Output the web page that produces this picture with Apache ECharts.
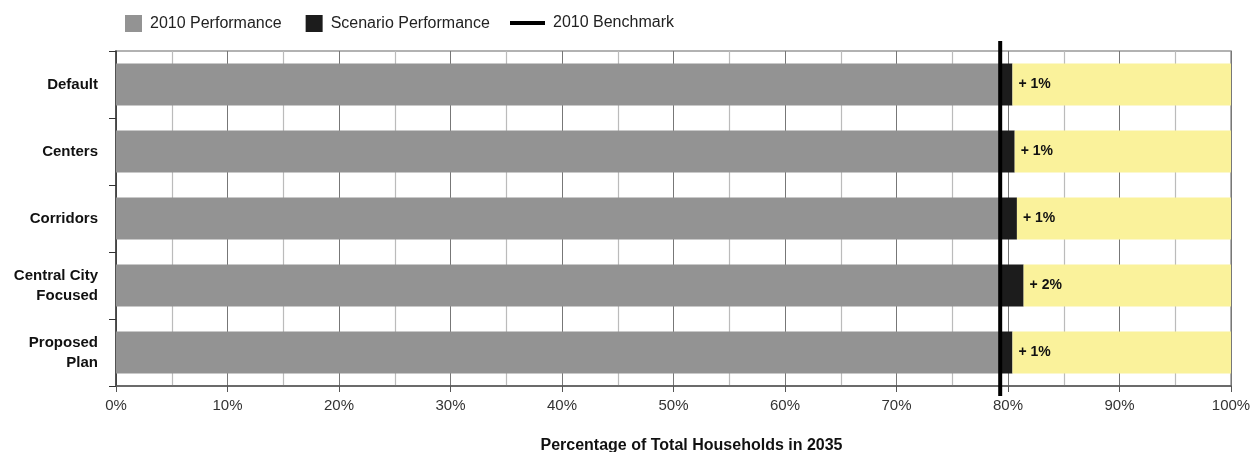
<!DOCTYPE html>
<html><head><meta charset="utf-8">
<script src="https://cdn.jsdelivr.net/npm/echarts@6/dist/echarts.min.js"></script>
<style>html,body{margin:0;padding:0;background:#fff}#c{width:1252px;height:452px}</style>
</head><body><div id="c"></div>
<script>
const categories = ['Default', 'Centers', 'Corridors', 'Central City\nFocused', 'Proposed\nPlan'];
const base2010 = [79.3, 79.3, 79.3, 79.3, 79.3];
const scenarioGain = [1.1, 1.3, 1.5, 2.1, 1.1];
const gainLabels = ['+ 1%', '+ 1%', '+ 1%', '+ 2%', '+ 1%'];
const benchmark = 79.3;
const xTicks = [0, 10, 20, 30, 40, 50, 60, 70, 80, 90, 100];

const remainder = base2010.map((b, i) => +(100 - b - scenarioGain[i]).toFixed(2));
const FONT = '"Liberation Sans", Arial, sans-serif';

const chart = echarts.init(document.getElementById('c'));
chart.setOption({
  animation: false,
  legend: [{
    left: 120, top: 10, itemWidth: 17, itemHeight: 17, itemGap: 24,
    icon: 'rect',
    textStyle: {fontFamily: FONT, fontSize: 16, color: '#222', padding: [0, 0, 0, 3]},
    data: ['2010 Performance', 'Scenario Performance']
  }, {
    left: 505, top: 10, itemWidth: 35, itemHeight: 4, icon: 'rect',
    textStyle: {fontFamily: FONT, fontSize: 16, color: '#222', padding: [0, 0, 0, 3]},
    data: [{name: '2010 Benchmark', icon: 'rect', itemStyle: {color: '#000'}}]
  }],
  grid: {left: 116, right: 21, top: 51, bottom: 66, show: true, borderColor: '#999', borderWidth: 1.5,
    outerBoundsMode: 'none', containLabel: false},
  xAxis: {
    type: 'value', min: xTicks[0], max: xTicks[xTicks.length - 1], interval: 10,
    axisLabel: {formatter: '{value}%', fontFamily: FONT, fontSize: 15, color: '#333', margin: 12},
    axisLine: {show: true, lineStyle: {color: '#555', width: 1.5}},
    axisTick: {show: true, length: 6, lineStyle: {color: '#555'}},
    splitLine: {show: true, lineStyle: {color: '#777', width: 1}},
    minorTick: {show: false, splitNumber: 2},
    minorSplitLine: {show: true, lineStyle: {color: '#bbb', width: 1.2}},
    name: 'Percentage of Total Households in 2035',
    nameLocation: 'middle', nameGap: 52,
    nameTextStyle: {fontFamily: FONT, fontSize: 16, fontWeight: 'bold', color: '#111', padding: [0, 0, 0, 36]}
  },
  yAxis: [{
    type: 'category', data: categories, inverse: true,
    axisLine: {show: true, lineStyle: {color: '#333', width: 1.5}},
    axisTick: {show: true, length: 7, lineStyle: {color: '#333'}},
    axisLabel: {fontFamily: FONT, fontSize: 15, fontWeight: 'bold', color: '#111', margin: 18, lineHeight: 20, align: 'right'},
    splitLine: {show: false}
  }, {
    type: 'value', min: 0, max: 1, show: false
  }],
  series: [{
    name: '2010 Performance', type: 'bar', stack: 's', barWidth: 42,
    itemStyle: {color: '#939393'}, data: base2010
  }, {
    name: 'Scenario Performance', type: 'bar', stack: 's', barWidth: 42,
    itemStyle: {color: '#1c1c1c'}, data: scenarioGain,
    label: {show: true, position: 'right', distance: 6, formatter: p => gainLabels[p.dataIndex],
      fontFamily: FONT, fontSize: 14, fontWeight: 'bold', color: '#111'}
  }, {
    name: 'Remaining', type: 'bar', stack: 's', barWidth: 42,
    itemStyle: {color: '#FAF29B'}, data: remainder
  }, {
    name: '2010 Benchmark', type: 'line', yAxisIndex: 1, clip: false,
    symbol: 'none', lineStyle: {color: '#000', width: 4}, itemStyle: {color: '#000'},
    data: [[benchmark, 1.03], [benchmark, -0.03]], z: 10
  }]
});
</script></body></html>
